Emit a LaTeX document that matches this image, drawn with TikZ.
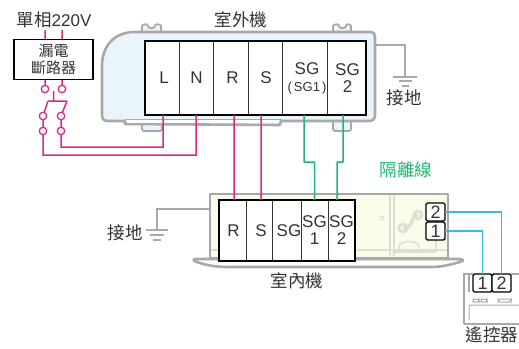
\documentclass[tikz,border=0pt]{standalone}
\usepackage{fontspec}
\usetikzlibrary{shapes.geometric}
\setmainfont{Liberation Sans}
\newfontfamily\cjk{Noto Sans CJK TC}
\definecolor{pinkwire}{HTML}{DC2A83}
\definecolor{greenwire}{HTML}{22B573}
\definecolor{bluewire}{HTML}{3DB7E4}
\definecolor{shell}{HTML}{A9A9A9}
\definecolor{inktext}{HTML}{333333}
\definecolor{outfill}{HTML}{E9F4FB}
\definecolor{infill}{HTML}{FBFBE9}
\definecolor{infaint}{HTML}{DEDED2}
\begin{document}
\begin{tikzpicture}
  [x=1pt,y=-1pt,
   every node/.style={inner sep=0pt,outer sep=0pt,text=inktext},
   lbl/.style={font=\cjk\fontsize{17.5}{20}\selectfont},
   cell/.style={draw=inktext,line width=.9pt,fill=white,minimum height=#1,align=center,
     font=\fontsize{17}{17}\selectfont},
   cell/.default=74pt,
   key/.style={draw=black,line width=1.4pt,fill=white,rounded corners=1.5pt,minimum width=19pt,
     minimum height=18pt,font=\fontsize{18}{18}\selectfont},
   ring/.style={circle,draw=pinkwire,line width=1.3pt,fill=white,minimum size=7.5pt},
   pinkline/.style={draw=pinkwire,line width=1.5pt},
   greenline/.style={draw=greenwire,line width=1.5pt},
   blueline/.style={draw=bluewire,line width=1.5pt},
   greyline/.style={draw=shell,line width=1.5pt},
   body/.style={draw=shell,line width=2.6pt,line join=round}]
  \useasboundingbox (0,0) rectangle (519,348);

  % outdoor unit
  \path[body,fill=outfill,line width=1.8pt,rounded corners=1pt]
    (142,33) -- (142,25) -- (147,24) -- (149,28) -- (154,28) -- (156,24) -- (161,25) -- (161,33) -- cycle
    (333,33) -- (333,25) -- (338,24) -- (340,28) -- (345,28) -- (347,24) -- (351,25) -- (351,33) -- cycle;
  \path[body,fill=outfill,line width=1.8pt,rounded corners=2pt]
    (142,120) -- (142,131) -- (162,131) -- (162,120) -- cycle
    (333,118) -- (333,131) -- (351,131) -- (351,118) -- cycle;
  \path[body,fill=outfill]
    (102,115) .. controls (102,119) and (104,121) .. (108,121) -- (125,121) -- (125,124) -- (280,125)
    -- (281,121) -- (369,121) .. controls (373,121) and (375,119) .. (375,115) -- (375,37)
    .. controls (375,34) and (374,32) .. (371,32) -- (135,32)
    .. controls (114,32) and (102,46) .. (102,66) -- cycle;
  \path[fill=white] (127,119.5) rectangle (278,122.5);
  \path[draw=shell,line width=.8pt] (125,119) -- (282,119);

  % indoor unit
  \path[body,fill=infill] (210,258) -- (210,194) -- (448,194) -- (448,258) -- cycle;
  \path[draw=infaint,line width=1.2pt] (390,195) -- (390,256) (394,195) -- (394,256)
    (211,250) -- (447,250) (394,252) -- (436,252) (436,230) -- (436,252);
  \path[draw=infaint,line width=3pt] (418,215) .. controls (409,217) and (415,228) .. (403,228);
  \node[circle,draw=infaint,line width=2.5pt,minimum size=8pt] (holeA) at (418,215) {};
  \node[circle,draw=infaint,line width=2.5pt,minimum size=8pt] (holeB) at (403,228) {};
  \node[ellipse,draw=infaint,line width=1.4pt,minimum width=20pt,minimum height=11pt] (holeC) at (409,247) {};
  \node[circle,draw=infaint,line width=.9pt,minimum size=4pt] (holeD) at (382,218) {};
  \path[body,fill=white,draw=shell,rounded corners=2pt]
    (194,259) -- (462,259) -- (463,261) .. controls (450,265) and (440,267) .. (430,267)
    -- (230,267) .. controls (215,267) and (205,265) .. (194,261) -- cycle;

  % terminals, outdoor
  \node[cell,minimum width=34pt] (tL) at (162,78) {\raisebox{-2pt}{\hspace{4pt}L}};
  \node[cell,minimum width=34pt] (tN) at (196,78) {\raisebox{-2pt}{\hspace{1pt}N}};
  \node[cell,minimum width=35pt] (tR) at (230.5,78) {\raisebox{-2pt}{\hspace{4pt}R}};
  \node[cell,minimum width=34pt] (tS) at (265,78) {\raisebox{-2pt}{\hspace{2pt}S}};
  \node[cell,minimum width=45pt] (tSGa) at (304.5,78) {\hspace{5pt}SG\\\fontsize{13}{13}\selectfont\hspace{5pt}(\,SG1\,)};
  \node[cell,minimum width=39pt] (tSGb) at (346.5,78) {\hspace{2pt}SG\\\hspace{2pt}2};
  \draw[black,line width=1.6pt] (tL.north west) rectangle (tSGb.south east);

  % terminals, indoor
  \node[cell=61pt,minimum width=27pt] (iR) at (232.5,230.5) {\hspace{2pt}R};
  \node[cell=61pt,minimum width=27pt] (iS) at (259.5,230.5) {\hspace{3pt}S};
  \node[cell=61pt,minimum width=28pt] (iSG) at (287,230.5) {\hspace{4pt}SG};
  \node[cell=61pt,minimum width=27pt] (iSGa) at (314.5,230.5) {SG\\1};
  \node[cell=61pt,minimum width=27pt] (iSGb) at (341.5,230.5) {SG\\2};
  \draw[black,line width=1.6pt] (iR.north west) rectangle (iSGb.south east);
  \node[key] (k2) at (435.5,212) {2};
  \node[key] (k1) at (435.5,231) {1};

  % remote
  \draw[shell,line width=1.3pt] (464,324) -- (464,274) -- (473,274) (511,274) -- (519,274)
    (464,324) -- (519,324) (469,274) -- (469,292);
  \draw[shell,line width=1pt,rounded corners=2pt] (469,320) -- (469,305) -- (519,305)
    (473,299) rectangle (479,302) (481,299) rectangle (487,302) (498,299) rectangle (511,302);
  \node[key] (r1) at (482.5,283) {1};
  \node[key] (r2) at (501.5,283) {2};

  % breaker
  \node[draw=black,line width=1.6pt,fill=white,minimum width=79pt,minimum height=40pt,align=center,
    font=\cjk\fontsize{15}{17}\selectfont] (brk) at (53.5,59.5) {漏電\\斷路器};
  \node[ring] (c1) at (45,89) {};
  \node[ring] (c2) at (62,89) {};
  \node[ring] (c3) at (43,116) {};
  \node[ring] (c4) at (61,116) {};
  \node[ring] (c5) at (43,131) {};
  \node[ring] (c6) at (61,131) {};

  % wire points
  \coordinate (p1) at (45,30);
  \coordinate (p2) at (62,30);
  \coordinate (q1) at (45,39);
  \coordinate (q2) at (62,39);
  \coordinate (q3) at (45,80);
  \coordinate (q4) at (62,80);
  \coordinate (bar1) at (53.5,91);
  \coordinate (bar2) at (53.5,101);
  \coordinate (bar3) at (48,101);
  \coordinate (bar4) at (67,101);
  \coordinate (wL) at (163,115);
  \coordinate (wN) at (196,115);
  \coordinate (wR) at (234,115);
  \coordinate (wS) at (261,115);
  \coordinate (wA) at (304,115);
  \coordinate (wB) at (343,115);
  \coordinate (vR) at (234,200);
  \coordinate (vS) at (261,200);
  \coordinate (vA) at (314.5,200);
  \coordinate (vB) at (337,200);
  \coordinate (gnd1) at (375,45);
  \coordinate (gnd2) at (405,77);
  \coordinate (gnd3) at (210,209);
  \coordinate (gnd4) at (157,229);

  \path[pinkline]
    (p1) -- (q1) (p2) -- (q2) (q3) -- (c1) (q4) -- (c2)
    (bar1) -- (bar2) (bar3) -- (bar4)
    (bar3) -- (c3) (bar4) -- (c4)
    (c3) -- (c5) (c4) -- (c6)
    (c6) |- (wL |- 0,147) -- (wL)
    (c5) |- (wN |- 0,155) -- (wN)
    (wR) -- (vR)
    (wS) -- (vS);
  \path[greenline,rounded corners=.5pt]
    (wA) -- (304,162) -- (314.5,162) -- (vA)
    (wB) -- (343,162) -- (337,162) -- (vB);
  \path[blueline]
    (k2.east) -| (r2.north)
    (k1.east) -| (r1.north);
  \path[greyline]
    (gnd1) -| (gnd2)
    (gnd3) -| (gnd4);

  % ground marks
  \draw[shell,line width=1.2pt] (393,77) -- (417,77) (399,81) -- (412,81) (402,86) -- (409,86);
  \draw[shell,line width=1.2pt] (146,230) -- (168,230) (150,235) -- (164,235) (153,240) -- (161,240);

  % labels
  \node (tPower) at (54,20) {\cjk\fontsize{17.5}{20}\selectfont 單相\fontspec{Liberation Sans}\fontsize{17}{20}\selectfont 220V};
  \node[lbl] (tOut) at (241,20) {室外機};
  \node[lbl] (tGndA) at (404,98) {接地};
  \node[lbl,text=greenwire] (tIso) at (406,170) {隔離線};
  \node[lbl] (tGndB) at (125,233) {接地};
  \node[lbl] (tIn) at (297,281) {室內機};
  \node[lbl] (tRemote) at (492,335) {遙控器};
\end{tikzpicture}
\end{document}
